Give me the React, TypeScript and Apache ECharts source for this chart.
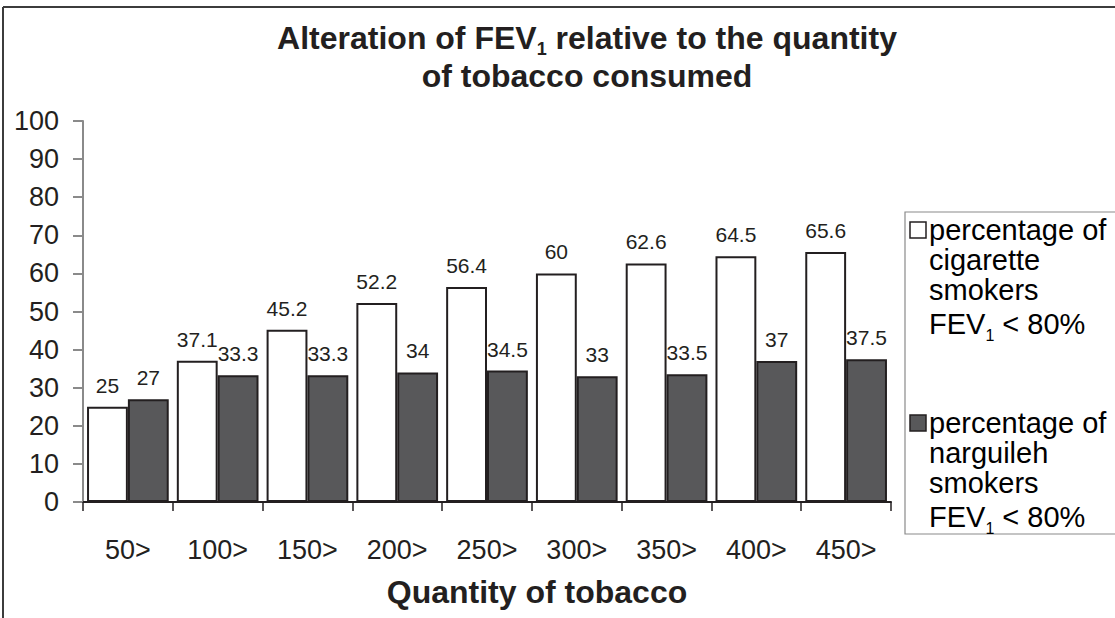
import React, { useEffect, useRef } from 'react';
import * as echarts from 'echarts';

const categories = ['50>', '100>', '150>', '200>', '250>', '300>', '350>', '400>', '450>'];
const cigaretteValues = [25, 37.1, 45.2, 52.2, 56.4, 60, 62.6, 64.5, 65.6];
const narguilehValues = [27, 33.3, 33.3, 34, 34.5, 33, 33.5, 37, 37.5];
const seriesNames = [
  'percentage of cigarette smokers FEV1 < 80%',
  'percentage of narguileh smokers FEV1 < 80%',
];
const legendLines = [
  ['percentage of', 'cigarette', 'smokers'],
  ['percentage of', 'narguileh', 'smokers'],
];

const FONT = "'Liberation Sans', Arial, sans-serif";
const INK = '#231f20';
const DARK = '#58585a';
const GREY = '#8a8a8a';

export default function App() {
  const ref = useRef<HTMLDivElement>(null);
  useEffect(() => {
    document.body.style.margin = '0';
    const chart = echarts.init(ref.current as HTMLDivElement, null, { renderer: 'svg' });
    const legendRich = {
      a: { fontFamily: FONT, fontSize: 29, color: INK, lineHeight: 30 },
      s: { fontFamily: FONT, fontSize: 16, color: INK, lineHeight: 38, verticalAlign: 'bottom' },
    };
    const legendText = (i: number) =>
      legendLines[i].map((l) => `{a|${l}}`).join('\n') + '\n{a|FEV}{s|1}{a| < 80%}';
    chart.setOption({
      animation: false,
      backgroundColor: '#ffffff',
      textStyle: { fontFamily: FONT },
      title: {
        left: 587,
        top: 18,
        padding: 0,
        textAlign: 'center',
        text: '{b|Alteration of FEV}{s|1}{b| relative to the quantity}\n{b|of tobacco consumed}',
        textStyle: {
          rich: {
            b: { fontFamily: FONT, fontSize: 32, fontWeight: 'bold', color: INK, lineHeight: 35 },
            s: { fontFamily: FONT, fontSize: 18, fontWeight: 'bold', color: INK, lineHeight: 40, verticalAlign: 'bottom' },
          },
        },
      },
      grid: { left: 83, top: 121, width: 808, height: 381, containLabel: false },
      xAxis: {
        type: 'category',
        data: categories,
        boundaryGap: true,
        axisLine: { show: true, lineStyle: { color: INK, width: 2 } },
        axisTick: { show: true, length: 9, lineStyle: { color: INK, width: 1.5 } },
        axisLabel: { color: INK, fontSize: 27, fontFamily: FONT, margin: 34 },
        splitLine: { show: false },
      },
      yAxis: {
        type: 'value',
        min: 0,
        max: 100,
        interval: 10,
        axisLine: { show: true, lineStyle: { color: GREY, width: 2 } },
        axisTick: { show: true, length: 10, lineStyle: { color: GREY, width: 2 } },
        axisLabel: { color: INK, fontSize: 27, fontFamily: FONT, margin: 24 },
        splitLine: { show: false },
      },
      series: [
        {
          name: seriesNames[0],
          type: 'bar',
          data: cigaretteValues,
          barGap: '0%',
          barCategoryGap: '9%',
          itemStyle: { color: '#ffffff', borderColor: INK, borderWidth: 2 },
          label: { show: true, position: 'top', distance: 11, fontSize: 21, color: INK, fontFamily: FONT },
        },
        {
          name: seriesNames[1],
          type: 'bar',
          data: narguilehValues,
          barGap: '0%',
          barCategoryGap: '9%',
          itemStyle: { color: DARK, borderColor: INK, borderWidth: 2 },
          label: { show: true, position: 'top', distance: 11, fontSize: 21, color: INK, fontFamily: FONT },
        },
      ],
      graphic: [
        { type: 'line', shape: { x1: 3, y1: 7, x2: 1115, y2: 7 }, style: { stroke: '#3c3c3c', lineWidth: 2 } },
        { type: 'line', shape: { x1: 3, y1: 7, x2: 3, y2: 618 }, style: { stroke: '#3c3c3c', lineWidth: 2 } },
        {
          type: 'text',
          x: 537,
          y: 592,
          style: { text: 'Quantity of tobacco', fontFamily: FONT, fontSize: 32, fontWeight: 'bold', fill: INK, align: 'center', verticalAlign: 'middle' },
        },
        { type: 'rect', shape: { x: 905, y: 212, width: 220, height: 322 }, style: { fill: '#ffffff', stroke: GREY, lineWidth: 1.2 } },
        { type: 'rect', shape: { x: 910, y: 222, width: 16, height: 16 }, style: { fill: '#ffffff', stroke: INK, lineWidth: 1.5 } },
        { type: 'text', x: 929, y: 215, style: { text: legendText(0), rich: legendRich, align: 'left', verticalAlign: 'top' } },
        { type: 'rect', shape: { x: 910, y: 415, width: 16, height: 16 }, style: { fill: DARK, stroke: INK, lineWidth: 1.5 } },
        { type: 'text', x: 929, y: 408, style: { text: legendText(1), rich: legendRich, align: 'left', verticalAlign: 'top' } },
      ],
    });
    return () => chart.dispose();
  }, []);
  return <div ref={ref} style={{ position: 'absolute', left: 0, top: 0, width: 1115, height: 618 }} />;
}
